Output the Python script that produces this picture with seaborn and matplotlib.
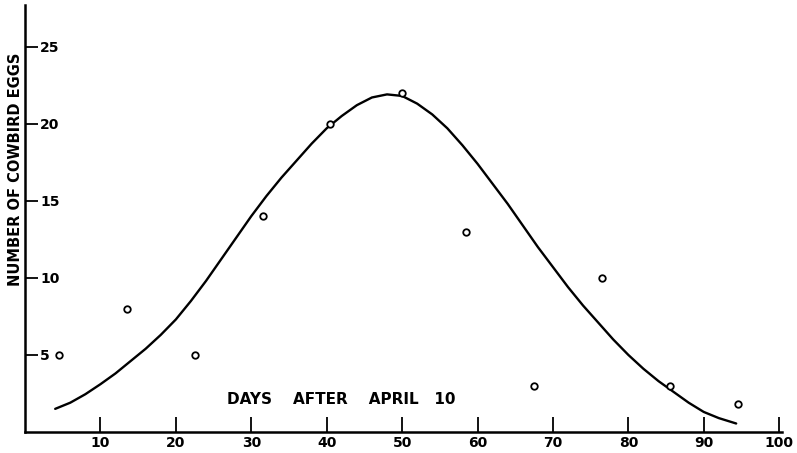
import numpy as np
import pandas as pd
import matplotlib
matplotlib.use("Agg")
import matplotlib.pyplot as plt
import seaborn as sns

days = [4.5, 13.5, 22.5, 31.5, 40.5, 50, 58.5, 67.5, 76.5, 85.5, 94.5]
eggs = [5, 8, 5, 14, 20, 22, 13, 3, 10, 3, 1.8]

# fitted curve
curve_days = [4, 6, 8, 10, 12, 14, 16, 18, 20, 22, 24, 26, 28, 30, 32, 34, 36, 38, 40,
              42, 44, 46, 48, 50, 52, 54, 56, 58, 60, 62, 64, 66, 68, 70, 72, 74, 76,
              78, 80, 82, 84, 86, 88, 90, 92, 94.3]
curve_eggs = [1.5, 1.9, 2.45, 3.1, 3.8, 4.6, 5.4, 6.3, 7.3, 8.5, 9.8, 11.2, 12.6, 14.0,
              15.3, 16.5, 17.6, 18.7, 19.7, 20.5, 21.2, 21.7, 21.9, 21.8, 21.3, 20.6,
              19.7, 18.6, 17.4, 16.1, 14.8, 13.4, 12.0, 10.7, 9.4, 8.2, 7.1, 6.0, 5.0,
              4.1, 3.3, 2.6, 1.9, 1.3, 0.9, 0.55]

x_ticks = [10, 20, 30, 40, 50, 60, 70, 80, 90, 100]
y_ticks = [5, 10, 15, 20, 25]

pts = pd.DataFrame({"day": days, "eggs": eggs})
fit = pd.DataFrame({"day": curve_days, "eggs": curve_eggs})

sns.set_style("ticks")
plt.rcParams["font.family"] = ["DejaVu Sans"]
plt.rcParams["font.weight"] = "bold"
for key in ["text.color", "axes.labelcolor", "xtick.color", "ytick.color", "axes.edgecolor"]:
    plt.rcParams[key] = "black"

fig = plt.figure(figsize=(7.97, 4.53), dpi=100)
ax = fig.add_axes([0.0314, 0.0464, 0.950, 0.9426])

sns.lineplot(data=fit, x="day", y="eggs", color="black", linewidth=1.7, ax=ax, sort=False)
sns.scatterplot(data=pts, x="day", y="eggs", marker="o", s=22, facecolor="white",
                edgecolor="black", linewidth=1.3, ax=ax, zorder=3)

ax.set_xlim(0, 100.4)
ax.set_ylim(0, 27.7)
ax.set_xticks(x_ticks)
ax.set_yticks(y_ticks)
ax.set_xticklabels([str(t) for t in x_ticks], fontsize=10, fontweight="bold")
ax.set_yticklabels([str(t) for t in y_ticks], fontsize=10, fontweight="bold", ha="left")
ax.tick_params(axis="x", direction="in", length=11, width=1.3, pad=3)
ax.tick_params(axis="y", direction="in", length=9, width=1.3, pad=-11)

for side in ["top", "right"]:
    ax.spines[side].set_visible(False)
for side in ["left", "bottom"]:
    ax.spines[side].set_linewidth(1.8)

ax.set_xlabel("")
ax.set_ylabel("")
ax.text(41.9, 2.1, "DAYS    AFTER    APRIL   10", fontsize=11, fontweight="bold",
        ha="center", va="center")
fig.text(0.019, 0.627, "NUMBER OF COWBIRD EGGS", rotation=90, fontsize=10.5,
         fontweight="bold", ha="center", va="center")

fig.savefig("out.png", dpi=100)
